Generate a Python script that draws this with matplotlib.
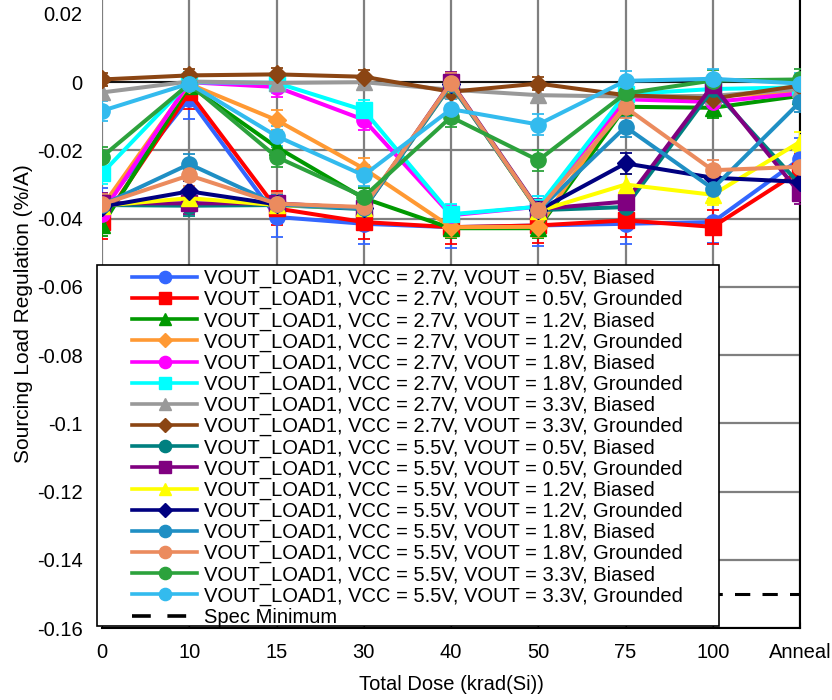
import matplotlib
matplotlib.use('Agg')
import matplotlib.pyplot as plt
from matplotlib.patches import Rectangle
from matplotlib.lines import Line2D
from matplotlib.ticker import FuncFormatter
import numpy as np

plt.rcParams['font.family'] = ['Liberation Sans', 'DejaVu Sans']
plt.rcParams['axes.unicode_minus'] = False

# categories on the x axis
doses = ['0', '10', '15', '30', '40', '50', '75', '100', 'Anneal']

labels = [
    'VOUT_LOAD1, VCC = 2.7V, VOUT = 0.5V, Biased',
    'VOUT_LOAD1, VCC = 2.7V, VOUT = 0.5V, Grounded',
    'VOUT_LOAD1, VCC = 2.7V, VOUT = 1.2V, Biased',
    'VOUT_LOAD1, VCC = 2.7V, VOUT = 1.2V, Grounded',
    'VOUT_LOAD1, VCC = 2.7V, VOUT = 1.8V, Biased',
    'VOUT_LOAD1, VCC = 2.7V, VOUT = 1.8V, Grounded',
    'VOUT_LOAD1, VCC = 2.7V, VOUT = 3.3V, Biased',
    'VOUT_LOAD1, VCC = 2.7V, VOUT = 3.3V, Grounded',
    'VOUT_LOAD1, VCC = 5.5V, VOUT = 0.5V, Biased',
    'VOUT_LOAD1, VCC = 5.5V, VOUT = 0.5V, Grounded',
    'VOUT_LOAD1, VCC = 5.5V, VOUT = 1.2V, Biased',
    'VOUT_LOAD1, VCC = 5.5V, VOUT = 1.2V, Grounded',
    'VOUT_LOAD1, VCC = 5.5V, VOUT = 1.8V, Biased',
    'VOUT_LOAD1, VCC = 5.5V, VOUT = 1.8V, Grounded',
    'VOUT_LOAD1, VCC = 5.5V, VOUT = 3.3V, Biased',
    'VOUT_LOAD1, VCC = 5.5V, VOUT = 3.3V, Grounded',
]

# sourcing load regulation (%/A), one list per condition
v27_05_b = [-0.0370, -0.0048, -0.0395, -0.0415, -0.0425, -0.0420, -0.0415, -0.0410, -0.0225]
v27_05_g = [-0.0410, -0.0030, -0.0370, -0.0410, -0.0425, -0.0420, -0.0405, -0.0424, -0.0260]
v27_12_b = [-0.0420, -0.0010, -0.0190, -0.0340, -0.0428, -0.0428, -0.0072, -0.0075, -0.0040]
v27_12_g = [-0.0365, -0.0005, -0.0111, -0.0253, -0.0425, -0.0424, -0.0050, -0.0040, -0.0030]
v27_18_b = [-0.0385, 0.0000, -0.0014, -0.0110, -0.0390, -0.0365, -0.0050, -0.0058, -0.0033]
v27_18_g = [-0.0267, 0.0000, -0.0002, -0.0082, -0.0387, -0.0365, -0.0035, -0.0020, -0.0015]
v27_33_b = [-0.0030, 0.0002, -0.0002, 0.0000, -0.0022, -0.0038, -0.0042, -0.0040, -0.0020]
v27_33_g = [0.0008, 0.0020, 0.0023, 0.0016, -0.0028, -0.0004, -0.0038, -0.0048, -0.0010]
v55_05_b = [-0.0360, -0.0362, -0.0360, -0.0372, -0.0008, -0.0375, -0.0366, -0.0020, -0.0300]
v55_05_g = [-0.0355, -0.0355, -0.0355, -0.0370, 0.0000, -0.0372, -0.0350, -0.0009, -0.0326]
v55_12_b = [-0.0362, -0.0340, -0.0360, -0.0368, -0.0006, -0.0378, -0.0300, -0.0330, -0.0175]
v55_12_g = [-0.0365, -0.0320, -0.0358, -0.0368, -0.0005, -0.0376, -0.0238, -0.0280, -0.0292]
v55_18_b = [-0.0360, -0.0240, -0.0358, -0.0370, -0.0005, -0.0376, -0.0131, -0.0312, -0.0058]
v55_18_g = [-0.0358, -0.0273, -0.0356, -0.0366, -0.0002, -0.0375, -0.0074, -0.0258, -0.0248]
v55_33_b = [-0.0219, -0.0005, -0.0219, -0.0336, -0.0102, -0.0229, -0.0033, 0.0005, 0.0008]
v55_33_g = [-0.0084, -0.0004, -0.0158, -0.0273, -0.0079, -0.0124, 0.0004, 0.0010, -0.0004]

# typical error bar half-height per condition
errs = [0.006, 0.005, 0.003, 0.003, 0.003, 0.003, 0.002, 0.002,
        0.003, 0.003, 0.003, 0.003, 0.003, 0.003, 0.003, 0.003]

spec_min = -0.15

series = [v27_05_b, v27_05_g, v27_12_b, v27_12_g, v27_18_b, v27_18_g, v27_33_b, v27_33_g,
          v55_05_b, v55_05_g, v55_12_b, v55_12_g, v55_18_b, v55_18_g, v55_33_b, v55_33_g]
colors = ['#3366FF', '#FF0000', '#009900', '#FF9933', '#FF00FF', '#00FFFF', '#999999', '#8B4513',
          '#008080', '#800080', '#FFFF00', '#000080', '#1F8FC4', '#EB8B5E', '#2CA23C', '#33BBEE']
markers = ['o', 's', '^', 'D', 'o', 's', '^', 'D', 'o', 's', '^', 'D', 'o', 'o', 'o', 'o']

fig = plt.figure(figsize=(8.32, 7), dpi=100)
ax = fig.add_axes([102 / 832, 1 - 628 / 700, 698 / 832, 628 / 700])

x = np.arange(len(doses))
handles = []
for vals, err, c, m, lab in zip(series, errs, colors, markers, labels):
    ms = 9 if m == 'D' else 11
    ax.errorbar(x, vals, yerr=err, color=c, marker=m, markersize=ms, lw=2.9,
                elinewidth=1.3, capsize=4, capthick=1.3, zorder=3)
    handles.append(Line2D([], [], color=c, marker=m, markersize=ms * 0.8, lw=2.6, label=lab))

ax.plot(x, [spec_min] * len(x), color='black', lw=2.2, dashes=(5, 4), zorder=3)
handles.append(Line2D([], [], color='black', lw=2.6, dashes=(5.2, 4.6), label='Spec Minimum'))

ax.axhline(0, color='black', lw=1.2, zorder=2)

ax.set_xlim(0, len(doses) - 1)
ax.set_ylim(-0.16, 0.0241)
ax.set_xticks(x)
ax.set_xticklabels(doses)
ax.set_yticks(np.arange(-0.16, 0.021, 0.02))
ax.yaxis.set_major_formatter(FuncFormatter(lambda v, p: f'{round(v, 2) + 0.0:g}'))
ax.tick_params(axis='x', labelsize=14.5, direction='in', length=4, pad=11)
ax.tick_params(axis='y', labelsize=14.5, length=0, pad=14)
ax.grid(True, color='#7f7f7f', lw=1.6, zorder=1)
ax.set_axisbelow(True)
ax.yaxis.get_gridlines()[-1].set_visible(False)

for s in ['top', 'left']:
    ax.spines[s].set_visible(False)
for s in ['right', 'bottom']:
    ax.spines[s].set_linewidth(1.5)

ax.set_xlabel('Total Dose (krad(Si))', fontsize=14.5, labelpad=9)
ax.set_ylabel('Sourcing Load Regulation (%/A)', fontsize=15, labelpad=3)

# legend box drawn separately so the handles can sit indented
box = Rectangle((97 / 832, 1 - 626 / 700), 622 / 832, 361 / 700, transform=fig.transFigure,
                facecolor='white', edgecolor='black', lw=1.2, zorder=4, clip_on=False)
ax.add_patch(box)
leg = ax.legend(handles=handles, loc='upper left', bbox_to_anchor=(132 / 832, 1 - 269 / 700),
                bbox_transform=fig.transFigure, frameon=False, fontsize=14.5,
                handlelength=3.23, handletextpad=0.35, labelspacing=0.095,
                borderpad=0, borderaxespad=0)
leg.set_zorder(6)

fig.savefig('out.png', dpi=100)
